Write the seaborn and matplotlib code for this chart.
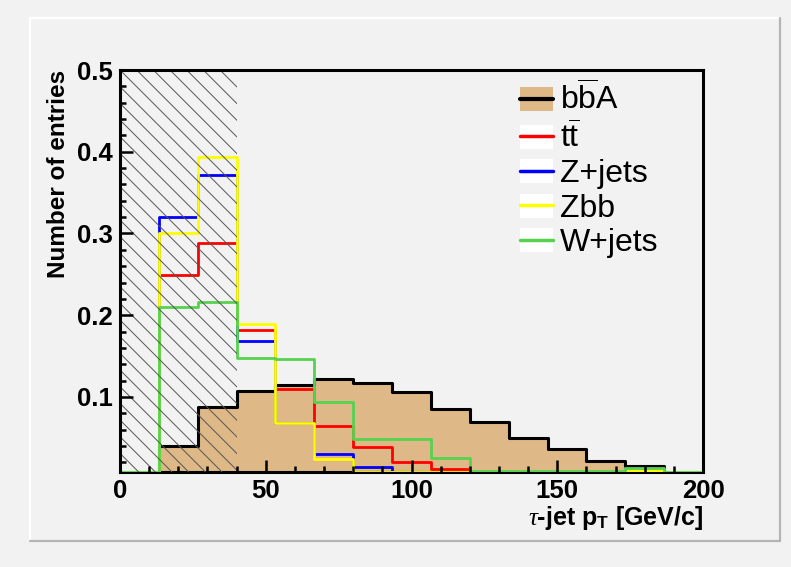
import numpy as np
import pandas as pd
import matplotlib
matplotlib.use("Agg")
import matplotlib.pyplot as plt
import seaborn as sns
from matplotlib.lines import Line2D
from matplotlib.patches import Patch
from matplotlib.ticker import MultipleLocator, FormatStrFormatter

sns.set_style("ticks")
plt.rcParams["font.family"] = ["Liberation Sans", "DejaVu Sans"]
plt.rcParams["mathtext.fontset"] = "custom"
plt.rcParams["mathtext.rm"] = "Liberation Sans"
plt.rcParams["mathtext.it"] = "Liberation Serif:italic"
plt.rcParams["mathtext.bf"] = "Liberation Sans:bold"
plt.rcParams["hatch.linewidth"] = 0.7
for k in ["text.color", "axes.labelcolor", "xtick.color", "ytick.color", "axes.edgecolor"]:
    plt.rcParams[k] = "black"
for a in ["xtick", "ytick"]:
    plt.rcParams[a + ".direction"] = "in"
    plt.rcParams[a + ".major.size"] = 9
    plt.rcParams[a + ".minor.size"] = 4.5
    plt.rcParams[a + ".major.width"] = 1.8
    plt.rcParams[a + ".minor.width"] = 1.8
    plt.rcParams[a + ".minor.visible"] = True
    plt.rcParams[a + ".labelsize"] = 18.5
    plt.rcParams[a + ".major.pad"] = 5
plt.rcParams["axes.axisbelow"] = False

# tau-jet pT, 15 bins of 13.3 GeV/c between 0 and 200
edges = list(np.linspace(0, 200, 16))
bba = [0.0, 0.040, 0.088, 0.107, 0.115, 0.122, 0.117, 0.106, 0.085, 0.070, 0.050, 0.036, 0.022, 0.0155, 0.004]
ttbar = [0.0, 0.249, 0.288, 0.182, 0.110, 0.065, 0.039, 0.021, 0.012, 0.004, 0.003, 0.002, 0.001, 0.001, 0.0]
zjets = [0.0, 0.320, 0.372, 0.169, 0.068, 0.030, 0.0140, 0.004, 0.002, 0.001, 0.001, 0.0, 0.0, 0.0, 0.0]
zbb = [0.0, 0.300, 0.394, 0.189, 0.068, 0.024, 0.002, 0.001, 0.002, 0.001, 0.0, 0.0, 0.0, 0.010, 0.0]
wjets = [0.0, 0.210, 0.216, 0.148, 0.147, 0.094, 0.048, 0.048, 0.025, 0.010, 0.009, 0.009, 0.009, 0.0135, 0.005]
cut_lo, cut_hi = 0, 40
ymin, ymax = 0.0086, 0.5

labels = [r"b$\overline{\mathrm{b}}$A", r"t$\overline{\mathrm{t}}$", "Z+jets", "Zbb", "W+jets"]
colors = ["black", "#ff0000", "#0000ff", "#ffff00", "#55d34f"]
tan = "#deb887"
bg = "#f2f2f2"

fig = plt.figure(figsize=(7.91, 5.67), dpi=100, facecolor=bg)
ax = fig.add_axes([120 / 791, 1 - 471.7 / 567, 583 / 791, (471.7 - 70) / 567])
ax.set_facecolor(bg)

centers = [(a + b) / 2 for a, b in zip(edges[:-1], edges[1:])]
df = pd.DataFrame({"pt": centers, "bba": bba})
sns.histplot(data=df, x="pt", weights="bba", bins=edges, element="step", fill=True,
             facecolor=tan, edgecolor="black", linewidth=2.2, alpha=1, ax=ax)
for vals, c in zip([ttbar, zjets, zbb, wjets], colors[1:]):
    d = pd.DataFrame({"pt": centers, "w": np.clip(vals, ymin, None)})
    sns.histplot(data=d, x="pt", weights="w", bins=edges,
                 element="step", fill=False, color=c, linewidth=2.0, ax=ax)

ax.axvspan(cut_lo, cut_hi, facecolor="none", edgecolor="#555555",
           hatch="\\\\", linewidth=0, zorder=5)

ax.set_xlim(0, 200)
ax.set_ylim(ymin, ymax)
ax.xaxis.set_major_locator(MultipleLocator(50))
ax.xaxis.set_minor_locator(MultipleLocator(10))
ax.yaxis.set_major_locator(MultipleLocator(0.1))
ax.yaxis.set_minor_locator(MultipleLocator(0.02))
ax.yaxis.set_major_formatter(FormatStrFormatter("%.1f"))
ax.xaxis.set_zorder(7)
ax.yaxis.set_zorder(7)
for t in ax.get_xticklabels() + ax.get_yticklabels():
    t.set_fontweight("bold")
for name, s in ax.spines.items():
    s.set_linewidth(2.2)
    s.set_zorder(6 if name != "bottom" else 1.5)

ax.set_xlabel(r"$\tau$-jet p$_\mathbf{T}$ [GeV/c]", loc="right", fontsize=18,
              fontweight="bold", labelpad=1)
ax.set_ylabel("Number of entries", loc="top", fontsize=17.5, fontweight="bold", labelpad=5)

handles = []
for i, c in enumerate(colors):
    box = Patch(facecolor=tan if i == 0 else "white", edgecolor="none")
    ln = Line2D([], [], color=c, linewidth=3 if i == 0 else 2.5)
    handles.append((box, ln))
fig.legend(handles, labels, loc="upper left", bbox_to_anchor=(520 / 791, 1 - 82 / 567),
           frameon=False, fontsize=23, handlelength=1.03, handleheight=0.78,
           handletextpad=0.22, labelspacing=0.14, borderpad=0, borderaxespad=0)

# pad frame
fig.add_artist(Line2D([30 / 791, 780 / 791], [1 - 18 / 567, 1 - 18 / 567], color="white", lw=1.6))
fig.add_artist(Line2D([30 / 791, 30 / 791], [1 - 18 / 567, 1 - 541 / 567], color="white", lw=1.6))
fig.add_artist(Line2D([780 / 791, 780 / 791], [1 - 18 / 567, 1 - 541 / 567], color="#b4b4b4", lw=1.6))
fig.add_artist(Line2D([30 / 791, 780 / 791], [1 - 541 / 567, 1 - 541 / 567], color="#b4b4b4", lw=1.6))

fig.savefig("out.png", dpi=100, facecolor=bg)
